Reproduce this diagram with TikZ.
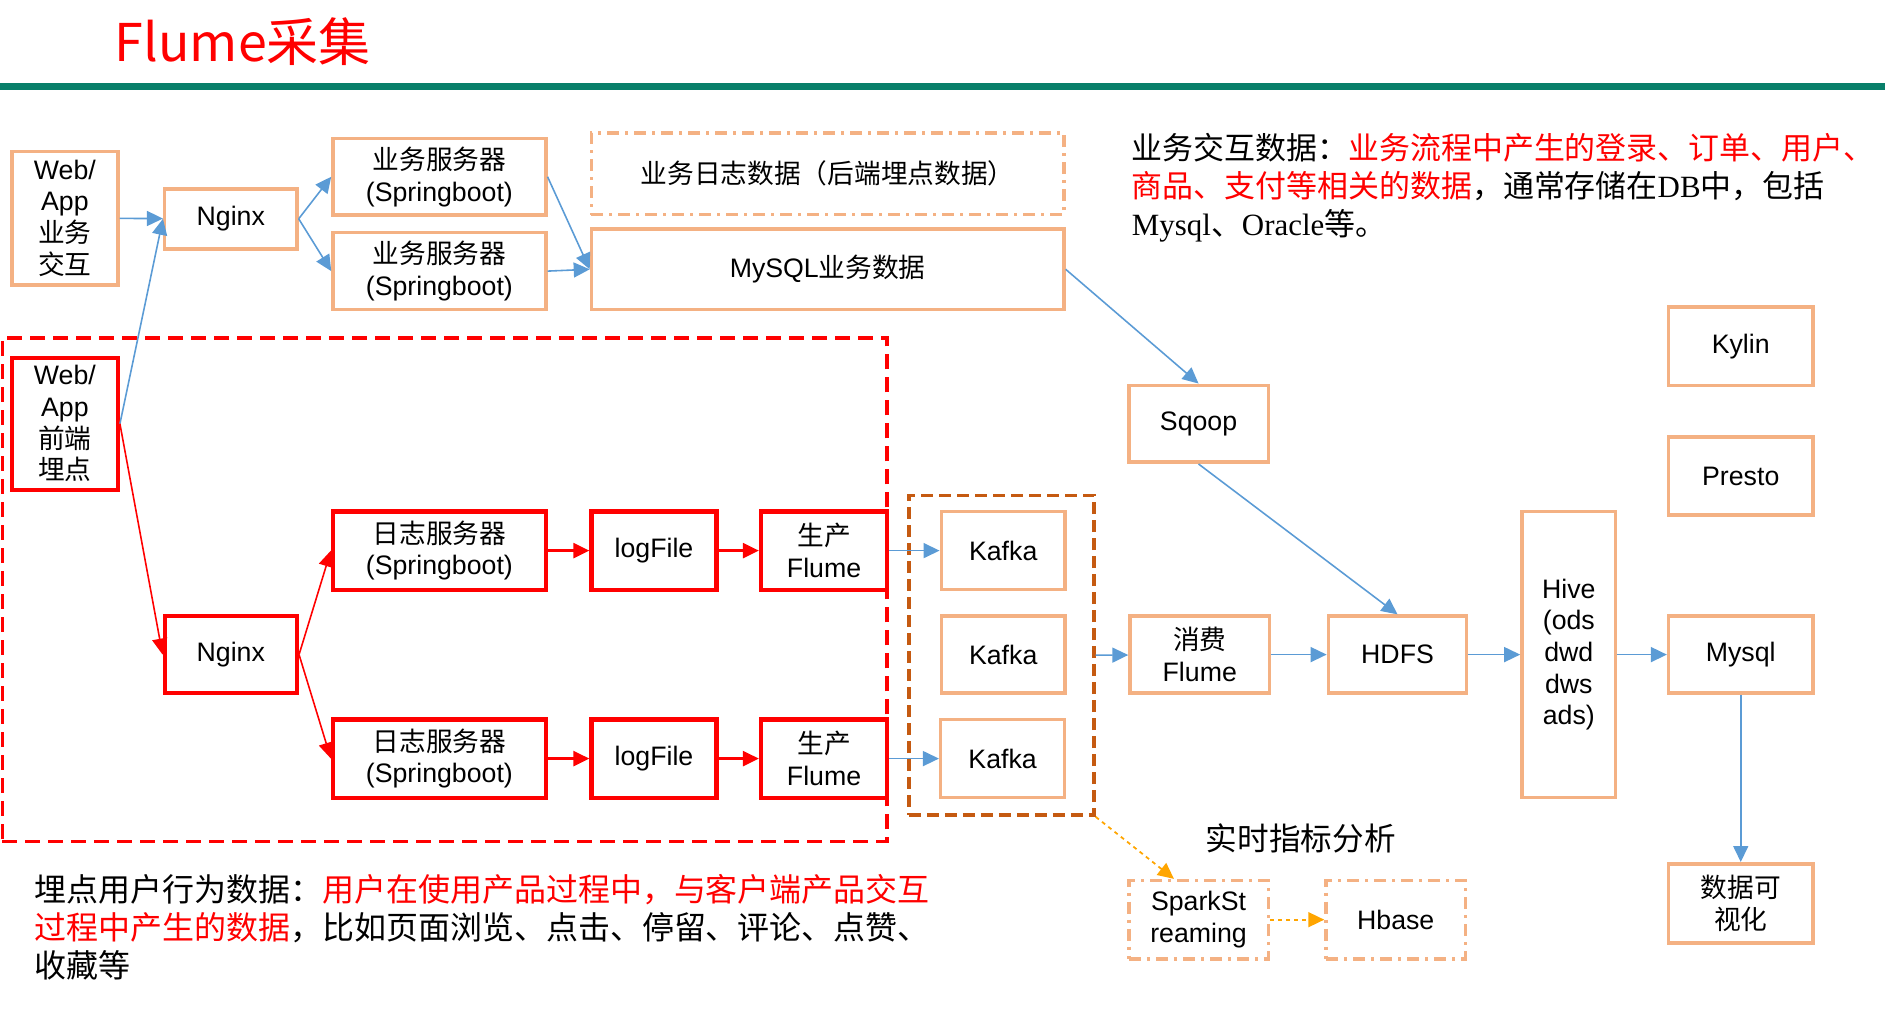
\documentclass[tikz,border=0pt]{standalone}
\usepackage{fontspec}
\setmainfont{Liberation Sans}
\newfontfamily\cjk{Noto Sans CJK SC}
\newfontfamily\tnr{Liberation Serif}
\usetikzlibrary{arrows.meta}
\newcommand\zw[1]{{\cjk #1}}
\definecolor{boxorange}{HTML}{F4B183}
\definecolor{arrowblue}{HTML}{5B9BD5}
\definecolor{kafkabrown}{HTML}{C55A11}
\definecolor{titlegreen}{HTML}{087F6A}
\definecolor{sparkorange}{HTML}{FFA500}

\begin{document}
\begin{tikzpicture}[
  x=0.12022mm, y=-0.12022mm,
  every node/.style={
    align=center, inner sep=0pt, font=\fontsize{7.6}{9}\selectfont
  },
  box/.style 2 args={
    draw=boxorange, line width=1pt,
    minimum width=#1*0.12022mm, minimum height=#2*0.12022mm
  },
  redbox/.style 2 args={box={#1}{#2}, draw=red, line width=1.2pt},
  dashbox/.style 2 args={box={#1}{#2}, dash pattern=on 1.2mm off .6mm on .3mm off .6mm},
  group/.style 2 args={
    line width=1pt, minimum width=#1*0.12022mm, minimum height=#2*0.12022mm
  },
  para/.style={
    anchor=north west, align=left, font=\fontsize{9.1}{10.8}\selectfont
  },
  tip/.style={-{Triangle[length=1.6mm,width=1.5mm]}},
  blue/.style={tip, draw=arrowblue, line width=.45pt},
  redarrow/.style={tip, draw=red, line width=.45pt},
  redflow/.style={tip, draw=red, line width=.7pt},
  spark/.style={tip, draw=sparkorange, line width=.5pt, dash pattern=on .4mm off .4mm}
  ]
  \useasboundingbox (0,0) rectangle (1568,843);
  \node[anchor=west, text=red, font=\cjk\fontsize{14.8}{18}\selectfont] (title) at (95,35) {Flume采集};
  \draw[titlegreen, line width=.7mm] (0,72) -- (1568,72);

  \node[group={736}{419}, draw=red, dash pattern=on 1.5mm off .8mm] (mdbox) at (370,490.5) {};
  \node[group={154}{266}, draw=kafkabrown, dash pattern=on 1.2mm off .6mm] (kgroup) at (833,545) {};

  \node[box={88}{111}] (web1) at (54,181.5) {Web/\\App\\\zw{业务}\\\zw{交互}};
  \node[box={110}{50}] (ngx1) at (192,182) {Nginx};
  \node[box={177}{64}] (srv1) at (365.5,147) {\zw{业务服务器}\\(Springboot)};
  \node[box={177}{64}] (srv2) at (365.5,225.5) {\zw{业务服务器}\\(Springboot)};
  \node[dashbox={393}{68}] (bizlog) at (688.5,144.5) {\zw{业务日志数据（后端埋点数据）}};
  \node[box={393}{67}] (mysqldb) at (688.5,224) {MySQL\zw{业务数据}};

  \node[redbox={88}{110}] (web2) at (54,352.5) {Web/\\App\\\zw{前端}\\\zw{埋点}};
  \node[redbox={110}{64}] (ngx2) at (192,544.5) {Nginx};
  \node[redbox={177}{65}] (logsrv1) at (365.5,458) {\zw{日志服务器}\\(Springboot)};
  \node[redbox={177}{65}] (logsrv2) at (365.5,631) {\zw{日志服务器}\\(Springboot)};
  \node[redbox={104}{65}] (logf1) at (544,458) {logFile};
  \node[redbox={104}{65}] (logf2) at (544,631) {logFile};
  \node[redbox={105}{65}] (prod1) at (685.5,458) {\zw{生产}\\Flume};
  \node[redbox={105}{65}] (prod2) at (685.5,631) {\zw{生产}\\Flume};

  \node[box={103}{65}] (kfk1) at (834.5,458) {Kafka};
  \node[box={103}{64}] (kfk2) at (834.5,544.5) {Kafka};
  \node[box={103}{65}] (kfk3) at (834,631) {Kafka};

  \node[box={116}{64}] (sqoop) at (997,352.5) {Sqoop};
  \node[box={116}{64}] (consume) at (998,544.5) {\zw{消费}\\Flume};
  \node[box={115}{64}] (hdfs) at (1162.5,544.5) {HDFS};
  \node[box={78}{238}] (hive) at (1305,544.5) {Hive\\(ods\\dwd\\dws\\ads)};
  \node[box={120}{65}] (kylin) at (1448,288) {Kylin};
  \node[box={120}{65}] (presto) at (1448,396) {Presto};
  \node[box={120}{64}] (mysql) at (1448,544.5) {Mysql};
  \node[box={120}{66}] (viz) at (1448,751.5) {\zw{数据可}\\\zw{视化}};

  \node[font=\cjk\fontsize{9}{11}\selectfont] (rtlabel) at (1082,697) {实时指标分析};
  \node[dashbox={116}{65}] (spark) at (997,765) {SparkSt\\reaming};
  \node[dashbox={116}{65}] (hbase) at (1161,765) {Hbase};

  \node[para, font=\fontsize{8.8}{10.8}\selectfont] (biztext) at (941,110) {\zw{业务交互数据：}\textcolor{red}{\zw{业务流程中产生的登录、订单、用户、}}\\
    \textcolor{red}{\zw{商品、支付等相关的数据}}\zw{，通常存储在}{\tnr DB}\zw{中，包括}\\
    {\tnr Mysql}\zw{、}{\tnr Oracle}\zw{等。}};
  \node[para] (mdtext) at (28,727) {\zw{埋点用户行为数据：}\textcolor{red}{\zw{用户在使用产品过程中，与客户端产品交互}}\\
    \textcolor{red}{\zw{过程中产生的数据}}\zw{，比如页面浏览、点击、停留、评论、点赞、}\\
    \zw{收藏等}};

  \draw[blue] (web1) -- (ngx1);
  \draw[blue] (web2.east) -- (ngx1.west);
  \draw[blue] (ngx1.east) -- (srv1.west);
  \draw[blue] (ngx1.east) -- (srv2.west);
  \draw[blue] (srv1.east) -- (mysqldb.west);
  \draw[blue] (srv2.east) -- (mysqldb.west);
  \draw[blue] (mysqldb.east) -- (sqoop.north);
  \draw[blue] (sqoop.south) -- (hdfs.north);

  \draw[redarrow] (web2.east) -- (ngx2.west);
  \draw[redarrow] (ngx2.east) -- (logsrv1.west);
  \draw[redarrow] (ngx2.east) -- (logsrv2.west);
  \draw[redflow] (logsrv1) -- (logf1);
  \draw[redflow] (logf1) -- (prod1);
  \draw[redflow] (logsrv2) -- (logf2);
  \draw[redflow] (logf2) -- (prod2);

  \draw[blue] (prod1) -- (kfk1);
  \draw[blue] (prod2) -- (kfk3);
  \draw[blue] (kgroup.east) -- (consume);
  \draw[blue] (consume) -- (hdfs);
  \draw[blue] (hdfs) -- (hive);
  \draw[blue] (hive) -- (mysql);
  \draw[blue] (mysql) -- (viz);

  \draw[spark] (kgroup.south east) -- ([xshift=-7]spark.north);
  \draw[spark] (spark) -- (hbase);
\end{tikzpicture}
\end{document}
